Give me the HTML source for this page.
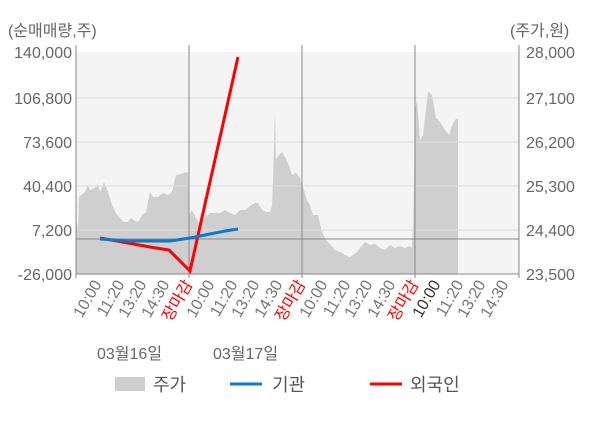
<!DOCTYPE html><html><head><meta charset="utf-8"><style>body{margin:0;background:#fff}svg{display:block;font-family:"Liberation Sans","Noto Sans CJK KR",sans-serif}</style></head><body>
<svg width="600" height="428" viewBox="0 0 600 428">
<rect x="76" y="52" width="443" height="222" fill="#f4f4f4"/>
<polygon fill="#cfcfcf" points="76,274 76,218 78,230 79,197 85,192 88,185 90,190 95,188 98,184 100,192 104,182 108,192 112,205 116,213 120,218 124,222 128,222 131,218 135,221 138,222 142,215 146,212 150,192 153,197 158,197 163,193 168,195 172,192 176,175 180,174 186,172 188,173 189,215 192,210 196,218 200,225 204,218 210,213 215,213 220,213 225,210 230,213 235,215 240,210 245,210 250,206 255,203 258,203 262,210 266,212 270,212 272,206 273,180 274,145 275,108 276,160 279,155 282,152 285,157 288,163 292,175 296,173 300,178 302,185 304,190 307,200 310,205 313,215 318,215 322,232 326,240 330,244 335,250 340,252 345,255 350,257 353,255 357,252 360,248 365,242 370,245 375,244 380,248 385,250 390,245 395,248 400,246 405,248 410,246 412,248 413,225 414,180 415,110 417,100 420,140 423,135 428,92 432,95 436,118 440,122 445,130 449,135 452,126 455,120 458,118 458,274"/>
<g stroke="#ddd" stroke-width="1"><line x1="76" y1="98" x2="519" y2="98"/><line x1="76" y1="142" x2="519" y2="142"/><line x1="76" y1="186" x2="519" y2="186"/><line x1="76" y1="230" x2="519" y2="230"/></g>
<line x1="76" y1="239" x2="519" y2="239" stroke="#888"/>
<g stroke="#888"><line x1="189" y1="45" x2="189" y2="278"/><line x1="302" y1="45" x2="302" y2="278"/><line x1="415" y1="45" x2="415" y2="278"/><line x1="76" y1="45" x2="76" y2="278"/><line x1="519" y1="45" x2="519" y2="278"/><line x1="76" y1="274" x2="519" y2="274"/></g>
<polyline fill="none" stroke="#ff0000" stroke-width="3" points="100,238 128,243 150,247 169,250 190,271 238,57"/>
<polyline fill="none" stroke="#0a7ad0" stroke-width="3" points="100,239 130,241 170,241 190,238 205,235 225,231 238,229"/>
<g font-size="16" fill="#666" text-anchor="end"><text x="72" y="58">140,000</text><text x="72" y="104">106,800</text><text x="72" y="148">73,600</text><text x="72" y="192">40,400</text><text x="72" y="236">7,200</text><text x="72" y="280">-26,000</text></g>
<g font-size="16" fill="#666"><text x="526" y="58">28,000</text><text x="526" y="104">27,100</text><text x="526" y="148">26,200</text><text x="526" y="192">25,300</text><text x="526" y="236">24,400</text><text x="526" y="280">23,500</text>
<text x="8" y="36">(순매매량,주)</text><text x="510" y="36">(주가,원)</text></g>
<g font-size="16" fill="#777" text-anchor="end">
<text transform="translate(102,284) rotate(-60)">10:00</text><text transform="translate(125,284) rotate(-60)">11:20</text><text transform="translate(147,284) rotate(-60)">13:20</text><text transform="translate(170,284) rotate(-60)">14:30</text><text fill="#f00" transform="translate(193,284) rotate(-60)">장마감</text>
<text transform="translate(215,284) rotate(-60)">10:00</text><text transform="translate(238,284) rotate(-60)">11:20</text><text transform="translate(260,284) rotate(-60)">13:20</text><text transform="translate(283,284) rotate(-60)">14:30</text><text fill="#f00" transform="translate(306,284) rotate(-60)">장마감</text>
<text transform="translate(328,284) rotate(-60)">10:00</text><text transform="translate(351,284) rotate(-60)">11:20</text><text transform="translate(373,284) rotate(-60)">13:20</text><text transform="translate(396,284) rotate(-60)">14:30</text><text fill="#f00" transform="translate(419,284) rotate(-60)">장마감</text>
<text fill="#333" transform="translate(441,284) rotate(-60)">10:00</text><text transform="translate(464,284) rotate(-60)">11:20</text><text transform="translate(486,284) rotate(-60)">13:20</text><text transform="translate(509,284) rotate(-60)">14:30</text></g>
<g font-size="16" fill="#666"><text x="97" y="359">03월16일</text><text x="213" y="359">03월17일</text></g>
<rect x="115" y="377" width="30" height="14" fill="#cfcfcf"/><text x="153" y="391" font-size="18" fill="#555">주가</text>
<line x1="230" y1="384" x2="262" y2="384" stroke="#0a7ad0" stroke-width="3"/><text x="272" y="391" font-size="18" fill="#555">기관</text>
<line x1="370" y1="384" x2="402" y2="384" stroke="#f00" stroke-width="3"/><text x="410" y="391" font-size="18" fill="#555">외국인</text>
</svg></body></html>
